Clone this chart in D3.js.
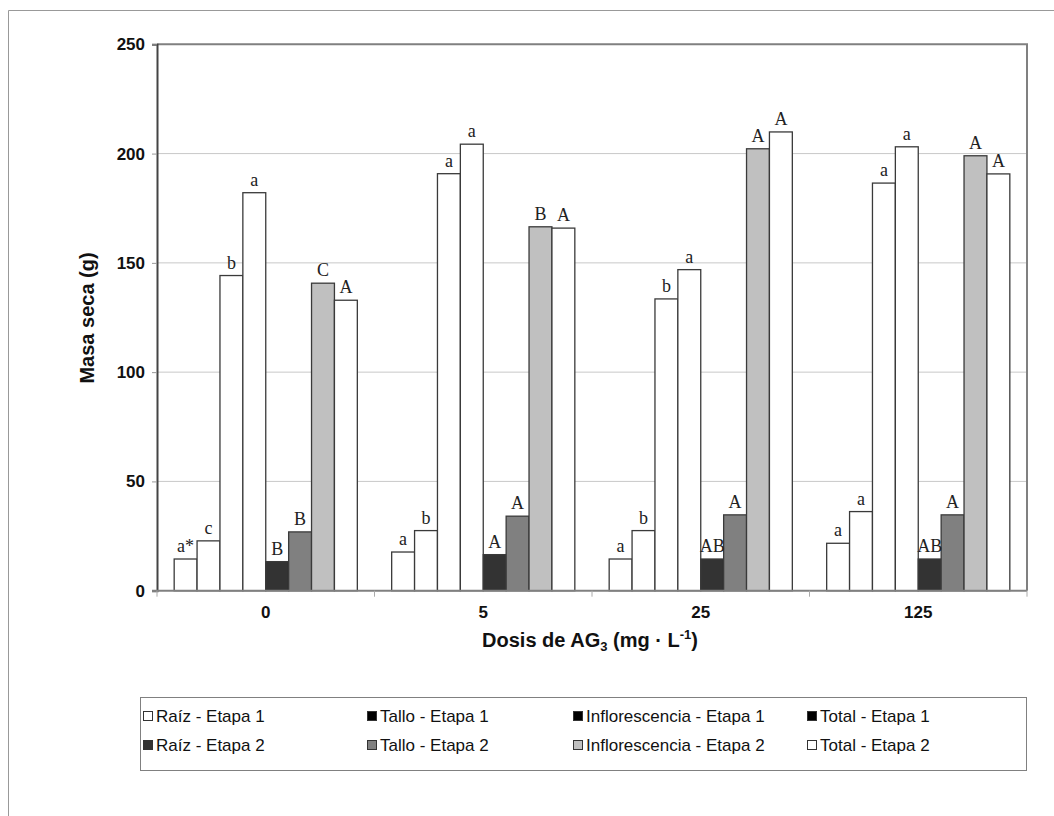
<!DOCTYPE html>
<html>
<head>
<meta charset="utf-8">
<script src="https://cdn.jsdelivr.net/npm/d3@7"></script>
<style>
  body { margin: 0; background: #fff; }
  text { font-family: "Liberation Sans", Arial, sans-serif; }
  .letter { font-family: "Liberation Serif", "Times New Roman", serif; font-size: 18px; fill: #222; }
</style>
</head>
<body>
<svg width="1054" height="816"></svg>
<script>
const doses = ["0", "5", "25", "125"]
const series = ["Raíz - Etapa 1", "Tallo - Etapa 1", "Inflorescencia - Etapa 1", "Total - Etapa 1",
                "Raíz - Etapa 2", "Tallo - Etapa 2", "Inflorescencia - Etapa 2", "Total - Etapa 2"]

// masa seca (g) per series, one value per dose
const raiz1  = [14.5, 17.7, 14.5, 21.7]
const tallo1 = [22.8, 27.5, 27.5, 36.2]
const infl1  = [144.2, 190.8, 133.5, 186.5]
const total1 = [182.1, 204.3, 146.9, 203.1]
const raiz2  = [13.3, 16.5, 14.5, 14.5]
const tallo2 = [26.9, 34.1, 34.7, 34.7]
const infl2  = [140.7, 166.5, 202.2, 199.0]
const total2 = [132.9, 165.9, 209.9, 190.7]

// letras de significancia
const letras = [
  ["a*", "a", "a", "a"],
  ["c", "b", "b", "a"],
  ["b", "a", "b", "a"],
  ["a", "a", "a", "a"],
  ["B", "A", "AB", "AB"],
  ["B", "A", "A", "A"],
  ["C", "B", "A", "A"],
  ["A", "A", "A", "A"]
]
const yTicks = [0, 50, 100, 150, 200, 250]

const values = [raiz1, tallo1, infl1, total1, raiz2, tallo2, infl2, total2]
const barFill = ["#fff", "#fff", "#fff", "#fff", "#333", "#808080", "#c0c0c0", "#fff"]
const legendFill = ["#fff", "#000", "#000", "#000", "#333", "#808080", "#c0c0c0", "#fff"]

const plot = { left: 157, right: 1027, top: 44.3, bottom: 590.7 }

const svg = d3.select("svg")

// outer frame (cut at right/bottom)
svg.append("path")
  .attr("d", "M8.5,816 V10.5 H1054")
  .attr("fill", "none").attr("stroke", "#999").attr("stroke-width", 1)

const x0 = d3.scaleBand(doses, [plot.left, plot.right])
const x1 = d3.scaleBand(d3.range(series.length), [0, x0.bandwidth()]).paddingOuter(0.75)
const y = d3.scaleLinear([0, 250], [plot.bottom, plot.top])

// grid
svg.append("g").selectAll("line")
  .data(yTicks.filter(d => d > 0 && d < 250))
  .join("line")
  .attr("x1", plot.left).attr("x2", plot.right)
  .attr("y1", d => y(d)).attr("y2", d => y(d))
  .attr("stroke", "#c8c8c8").attr("stroke-width", 1)

// plot frame top/right
svg.append("path")
  .attr("d", `M${plot.left},${plot.top} H${plot.right} V${plot.bottom}`)
  .attr("fill", "none").attr("stroke", "#808080").attr("stroke-width", 2)

// bars
const groups = svg.append("g").selectAll("g")
  .data(doses)
  .join("g")
  .attr("transform", d => `translate(${x0(d)},0)`)

const cells = (d, i) => series.map((s, j) => ({ s: j, v: values[j][i], l: letras[j][i] }))

groups.selectAll("rect")
  .data(cells)
  .join("rect")
  .attr("x", d => x1(d.s))
  .attr("width", x1.bandwidth())
  .attr("y", d => y(d.v))
  .attr("height", d => y(0) - y(d.v))
  .attr("fill", d => barFill[d.s])
  .attr("stroke", "#3a3a3a").attr("stroke-width", 1.3)

groups.selectAll("text")
  .data(cells)
  .join("text")
  .attr("class", "letter")
  .attr("x", d => x1(d.s) + x1.bandwidth() / 2)
  .attr("y", d => y(d.v) - 7)
  .attr("text-anchor", "middle")
  .text(d => d.l)

// y axis
const yAxis = svg.append("g")
  .attr("transform", `translate(${plot.left},0)`)
  .call(d3.axisLeft(y).tickValues(yTicks).tickSize(5).tickPadding(7))
yAxis.select(".domain").attr("stroke", "#444").attr("stroke-width", 2)
yAxis.selectAll(".tick line").attr("stroke", "#999")
yAxis.selectAll(".tick text")
  .attr("font-size", 17).attr("font-weight", "bold").attr("fill", "#111")
  .attr("font-family", "Liberation Sans, Arial, sans-serif")

// x axis
svg.append("line")
  .attr("x1", plot.left - 5).attr("x2", plot.right)
  .attr("y1", plot.bottom).attr("y2", plot.bottom)
  .attr("stroke", "#808080").attr("stroke-width", 2)
svg.append("g").selectAll("line")
  .data(doses.map(d => x0(d)).concat([plot.right]))
  .join("line")
  .attr("x1", d => d).attr("x2", d => d)
  .attr("y1", plot.bottom).attr("y2", plot.bottom + 6)
  .attr("stroke", "#aaa")
svg.append("g").selectAll("text")
  .data(doses)
  .join("text")
  .attr("x", d => x0(d) + x0.bandwidth() / 2)
  .attr("y", 618)
  .attr("text-anchor", "middle")
  .attr("font-size", 17).attr("font-weight", "bold").attr("fill", "#111")
  .text(d => d)

// axis titles
const xt = svg.append("text")
  .attr("x", 590).attr("y", 647)
  .attr("text-anchor", "middle")
  .attr("font-size", 20).attr("font-weight", "bold").attr("fill", "#111")
xt.append("tspan").text("Dosis de AG")
xt.append("tspan").attr("font-size", 13).attr("dy", 4).text("3")
xt.append("tspan").attr("dy", -4).text(" (mg · L")
xt.append("tspan").attr("font-size", 13).attr("dy", -8).text("-1")
xt.append("tspan").attr("dy", 8).text(")")

svg.append("text")
  .attr("transform", "translate(94,318) rotate(-90)")
  .attr("text-anchor", "middle")
  .attr("font-size", 20).attr("font-weight", "bold").attr("fill", "#111")
  .text("Masa seca (g)")

// legend
svg.append("rect")
  .attr("x", 140.5).attr("y", 697.5).attr("width", 886).attr("height", 73)
  .attr("fill", "#fff").attr("stroke", "#808080").attr("stroke-width", 1)

const legCols = [143, 367, 573, 807]
const legRows = [716, 745]
const leg = svg.append("g").selectAll("g")
  .data(series)
  .join("g")
  .attr("transform", (d, i) => `translate(${legCols[i % 4]},${legRows[Math.floor(i / 4)]})`)
leg.append("rect")
  .attr("x", 0.5).attr("y", -4.5).attr("width", 9).attr("height", 9)
  .attr("fill", (d, i) => legendFill[i])
  .attr("stroke", "#333").attr("stroke-width", 1)
leg.append("text")
  .attr("x", 13).attr("y", 6)
  .attr("font-size", 17).attr("fill", "#111")
  .text(d => d)
</script>
</body>
</html>
